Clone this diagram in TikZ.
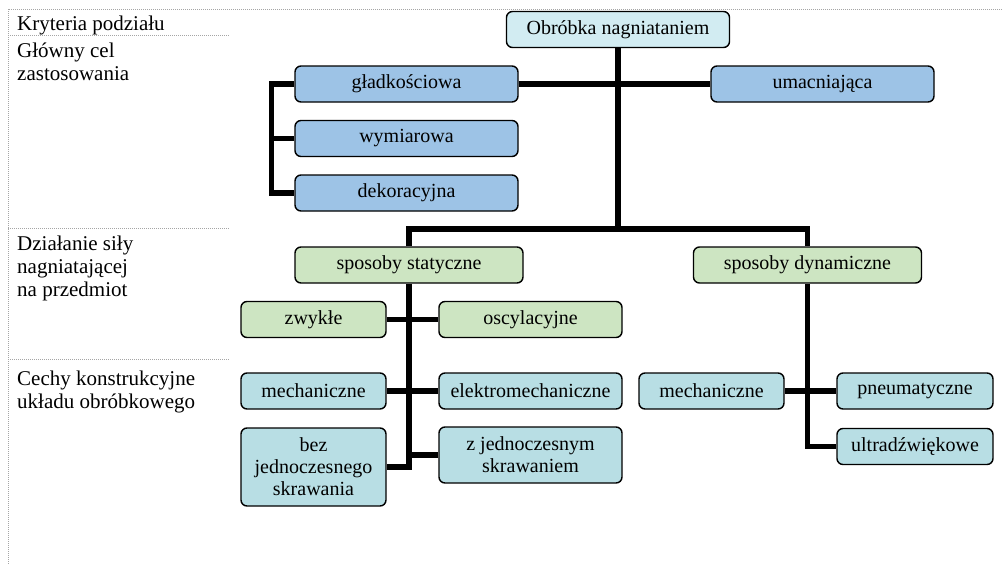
\documentclass[tikz,border=0pt]{standalone}
\usepackage{fontspec}
\setmainfont{Liberation Serif}
\usepackage{tikz}
\usetikzlibrary{backgrounds}
\definecolor{JasnyKorzen}{RGB}{210,236,242}
\definecolor{NiebieskiCel}{RGB}{157,195,230}
\definecolor{ZielonySila}{RGB}{205,229,194}
\definecolor{TurkusCecha}{RGB}{184,222,228}
\definecolor{SzaryKropki}{RGB}{165,165,165}

\begin{document}
\begin{tikzpicture}[x=1pt,y=-1pt,
  blok/.style={draw,line width=1.4pt,rounded corners=6pt,minimum height=36pt,
    align=center,inner sep=2pt,font=\fontsize{20}{22}\selectfont},
  szeroki/.style={blok,minimum width=223pt},
  waski/.style={blok,minimum width=145pt},
  prawy/.style={blok,minimum width=183pt},
  polaczenie/.style={line width=5.5pt},
  kropki/.style={SzaryKropki,line width=0.8pt,dash pattern=on 1pt off 1pt},
  etykieta/.style={anchor=north west,inner sep=0pt,align=left,
    font=\fontsize{21}{23}\selectfont}]
  \useasboundingbox (0,0) rectangle (1002,565);

  % kolumna kryteriow
  \draw[kropki] (1002,9) -- (8,9) -- (8,565);
  \draw[kropki] (8,35) -- (230,35);
  \draw[kropki] (8,228) -- (230,228);
  \draw[kropki] (8,359) -- (230,359);
  \node[etykieta] (kryt) at (17,16) {Kryteria podziału};
  \node[etykieta] (cel) at (17,43) {Główny cel\\zastosowania};
  \node[etykieta] (sila) at (17,236) {Działanie siły\\nagniatającej\\na przedmiot};
  \node[etykieta] (cechy) at (17,371) {Cechy konstrukcyjne\\układu obróbkowego};

  % drzewo
  \node[szeroki,fill=JasnyKorzen] (obr) at (618,29.5) {Obróbka nagniataniem};
  \node[szeroki,fill=NiebieskiCel] (glad) at (406.5,84) {gładkościowa};
  \node[szeroki,fill=NiebieskiCel] (umac) at (822.5,84) {umacniająca};
  \node[szeroki,fill=NiebieskiCel] (wym) at (406.5,138.5) {wymiarowa};
  \node[szeroki,fill=NiebieskiCel] (dek) at (406.5,193) {dekoracyjna};

  \node[blok,minimum width=228pt,fill=ZielonySila] (stat) at (409,265) {sposoby statyczne};
  \node[blok,minimum width=228pt,fill=ZielonySila] (dyn) at (807.5,265) {sposoby dynamiczne};
  \node[waski,fill=ZielonySila] (zwy) at (313.5,319.5) {zwykłe};
  \node[prawy,fill=ZielonySila] (osc) at (530.5,319.5) {oscylacyjne};

  \node[waski,fill=TurkusCecha] (mech) at (313.5,391) {mechaniczne};
  \node[prawy,fill=TurkusCecha] (elek) at (530.5,391) {elektromechaniczne};
  \node[waski,fill=TurkusCecha,minimum height=78pt] (bez) at (313.5,467) {bez\\jednoczesnego\\skrawania};
  \node[prawy,fill=TurkusCecha,minimum height=56pt] (zjed) at (530.5,455) {z jednoczesnym\\skrawaniem};
  \node[waski,fill=TurkusCecha] (mechd) at (711.5,391) {mechaniczne};
  \node[blok,minimum width=156pt,fill=TurkusCecha] (pneu) at (915,391) {pneumatyczne};
  \node[blok,minimum width=156pt,fill=TurkusCecha] (ultra) at (915,446.5) {ultradźwiękowe};

  \coordinate (szyna) at (618,229);

  \begin{scope}[on background layer]
    \draw[polaczenie] (obr.south) -- (szyna);
    \draw[polaczenie] (glad.east) -- (umac.west);
    \draw[polaczenie] (glad.west) -- ++(-23,0) |- (dek.west);
    \draw[polaczenie] (wym.west) -- ++(-23,0);
    \draw[polaczenie] (stat.north) |- (szyna) -| (dyn.north);
    \draw[polaczenie] (stat.south) |- (bez.east);
    \draw[polaczenie] (zwy.east) -- (osc.west);
    \draw[polaczenie] (mech.east) -- (elek.west);
    \draw[polaczenie] (zjed.west) -- (zjed.west -| stat.south);
    \draw[polaczenie] (dyn.south) |- (ultra.west);
    \draw[polaczenie] (mechd.east) -- (pneu.west);
  \end{scope}
\end{tikzpicture}
\end{document}
